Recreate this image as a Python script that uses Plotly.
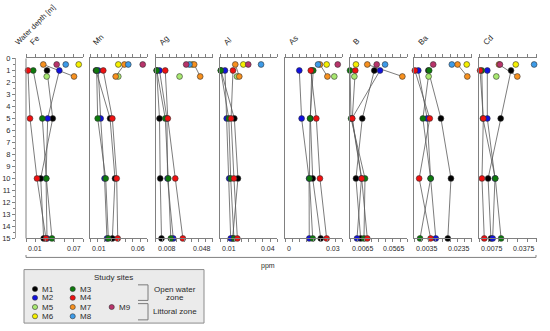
import plotly.graph_objects as go

W, H = 550, 331

elements = ["Fe", "Mn", "Ag", "Al", "As", "B", "Ba", "Cd"]
x_min = [0.01, 0.01, 0.008, 0.01, 0.0, 0.0065, 0.0035, 0.0075]
x_max = [0.07, 0.06, 0.048, 0.04, 0.03, 0.0565, 0.0235, 0.0375]
min_label = ["0.01", "0.01", "0.008", "0.01", "0", "0.0065", "0.0035", "0.0075"]
max_label = ["0.07", "0.06", "0.048", "0.04", "0.03", "0.0565", "0.0235", "0.0375"]
n_intervals = [6, 8, 8, 8, 8, 8, 8, 6]

sites = ["M1", "M2", "M3", "M4", "M5", "M6", "M7", "M8", "M9"]
site_colors = ["#000000", "#1010e0", "#0c7a0c", "#f01010", "#a8e870",
               "#f5f000", "#f7901e", "#3d9be8", "#b8336a"]

open_depths = [1, 5, 10, 15]
littoral_depths = {"M5": [1.5], "M6": [0.5], "M7": [0.5, 1.5], "M8": [0.5], "M9": [0.5]}
depth_ticks = list(range(0, 16))

fe = {"M1": [0.032, 0.038, 0.0254, 0.0285], "M2": [0.0449, 0.0327, 0.031, 0.032],
      "M3": [0.0176, 0.0271, 0.0313, 0.0372], "M4": [0.0121, 0.0142, 0.0215, 0.0309],
      "M5": [0.0317], "M6": [0.0652], "M7": [0.0281, 0.0603], "M8": [0.0516], "M9": [0.0421]}
mn = {"M1": [0.0152, 0.0275, 0.0318, 0.0295], "M2": [0.0172, 0.0193, 0.0227, 0.0248],
      "M3": [0.0158, 0.0167, 0.0237, 0.026], "M4": [0.0216, 0.0295, 0.0333, 0.0342],
      "M5": [0.0347], "M6": [0.0347], "M7": [0.04, 0.0324], "M8": [0.0434], "M9": [0.056]}
ag = {"M1": [0.0088, 0.0108, 0.0113, 0.0122], "M2": [0.0108, 0.016, 0.0164, 0.0204],
      "M3": [0.0089, 0.0148, 0.0169, 0.0187], "M4": [0.0148, 0.0166, 0.0218, 0.0271],
      "M5": [0.0248], "M6": [0.0336], "M7": [0.035, 0.0392], "M8": [0.0317], "M9": [0.0294]}
al = {"M1": [0.0105, 0.0175, 0.0194, 0.0166], "M2": [0.0126, 0.0135, 0.0148, 0.0156],
      "M3": [0.0104, 0.0146, 0.0156, 0.0173], "M4": [0.0168, 0.0158, 0.0173, 0.0191],
      "M5": [0.0189], "M6": [0.0222], "M7": [0.018, 0.0201], "M8": [0.0315], "M9": [0.0248]}
as_ = {"M1": [0.014, 0.0133, 0.0145, 0.0187], "M2": [0.0075, 0.0087, 0.0126, 0.0127],
       "M3": [0.0148, 0.0131, 0.0128, 0.0145], "M4": [0.0135, 0.0164, 0.0183, 0.0218],
       "M5": [0.0258], "M6": [0.0218], "M7": [0.0183, 0.0222], "M8": [0.0173], "M9": [0.0276]}
b = {"M1": [0.0277, 0.0172, 0.0117, 0.0158], "M2": [0.0327, 0.0082, 0.0165, 0.0126],
     "M3": [0.0065, 0.0074, 0.0196, 0.0187], "M4": [0.0111, 0.0085, 0.0167, 0.0216],
     "M5": [0.0103], "M6": [0.0117], "M7": [0.0216, 0.0522], "M8": [0.0371], "M9": [0.0298]}
ba = {"M1": [0.0084, 0.0128, 0.0163, 0.0152], "M2": [0.0049, 0.008, 0.0092, 0.011],
      "M3": [0.0087, 0.0065, 0.0092, 0.0055], "M4": [0.0037, 0.0089, 0.0052, 0.0092],
      "M5": [0.0085], "M6": [0.0218], "M7": [0.0186, 0.022], "M8": [0.0166], "M9": [0.0101]}
cd = {"M1": [0.0241, 0.0187, 0.0121, 0.0136], "M2": [0.0117, 0.0117, 0.0157, 0.0145],
      "M3": [0.0088, 0.0094, 0.0159, 0.0189], "M4": [0.0079, 0.0096, 0.0089, 0.0101],
      "M5": [0.0164], "M6": [0.0266], "M7": [0.0178, 0.0274], "M8": [0.0362], "M9": [0.0183]}
element_data = [fe, mn, ag, al, as_, b, ba, cd]

# layout geometry (pixels)
panel_left = [26, 90, 155.5, 220, 285, 350, 414.3, 479.3]
panel_w = 57.3
plot_top, plot_bot = 56, 241
FONT = "Liberation Sans, Arial, sans-serif"
TXT = "#2a2a2a"
AX = "#808080"


def px(p):
    return p / W


def py(p):
    return 1 - p / H


def depths_for(site):
    return open_depths if site in ["M1", "M2", "M3", "M4"] else littoral_depths[site]


fig = go.Figure()
layout = {}
shapes = []
annotations = []

for i, el in enumerate(elements):
    n = i + 1
    xa = "x" if n == 1 else f"x{n}"
    ya = "y" if n == 1 else f"y{n}"
    data = element_data[i]
    # connecting lines
    for s in sites:
        d = depths_for(s)
        if len(d) > 1:
            fig.add_trace(go.Scatter(x=data[s], y=d, mode="lines", xaxis=xa, yaxis=ya,
                                     line=dict(color="#5a5a5a", width=0.8),
                                     showlegend=False, hoverinfo="skip", cliponaxis=False))
    # markers
    for s, c in zip(sites, site_colors):
        d = depths_for(s)
        fig.add_trace(go.Scatter(x=data[s], y=d, mode="markers", xaxis=xa, yaxis=ya,
                                 marker=dict(size=5.8, color=c, line=dict(color="#333333", width=0.6)),
                                 showlegend=False, name=s, cliponaxis=False))
    step = (x_max[i] - x_min[i]) / n_intervals[i]
    tv = [x_min[i] + k * step for k in range(n_intervals[i] + 1)]
    left = panel_left[i]
    layout["xaxis" if n == 1 else f"xaxis{n}"] = dict(
        domain=[px(left), px(left + panel_w)], range=[x_min[i], x_max[i]],
        anchor=ya, showline=True, linecolor=AX, linewidth=1, mirror="ticks",
        ticks="outside", ticklen=3, tickwidth=1, tickcolor=AX, tickvals=tv,
        showticklabels=False, showgrid=False, zeroline=False)
    ydict = dict(domain=[py(plot_bot), py(plot_top)], range=[15, 0], anchor=xa,
                 showgrid=False, zeroline=False)
    if n == 1:
        ydict.update(anchor="free", position=px(15), showline=True, linecolor="#a0a0a0",
                     linewidth=1, ticks="outside", ticklen=3, tickcolor=AX, tickvals=depth_ticks,
                     ticktext=[str(v) for v in depth_ticks],
                     tickfont=dict(family=FONT, size=7.5, color=TXT),
                     minor=dict(ticks="outside", ticklen=2, tickcolor=AX, dtick=0.5))
        shapes.append(dict(type="line", xref="x domain", yref="y domain", x0=0, x1=0, y0=0, y1=1,
                           line=dict(color=AX, width=1)))
    else:
        ydict.update(showline=True, linecolor=AX, linewidth=1, ticks="", showticklabels=False)
    layout["yaxis" if n == 1 else f"yaxis{n}"] = ydict
    # element title (rotated)
    annotations.append(dict(text=el, x=px(left - 1), y=py(47), xref="paper", yref="paper",
                            xanchor="left", yanchor="bottom", textangle=-45, showarrow=False,
                            font=dict(family=FONT, size=8, color=TXT)))
    # bottom range labels
    annotations.append(dict(text=min_label[i], x=px(left), y=py(251), xref="paper", yref="paper",
                            xanchor="left", yanchor="middle", showarrow=False,
                            font=dict(family=FONT, size=7, color=TXT)))
    annotations.append(dict(text=max_label[i], x=px(left + panel_w), y=py(251), xref="paper",
                            yref="paper", xanchor="right", yanchor="middle", showarrow=False,
                            font=dict(family=FONT, size=7, color=TXT)))

# water depth title
annotations.append(dict(text="Water depth [m]", x=px(11), y=py(47), xref="paper", yref="paper",
                        xanchor="left", yanchor="bottom", textangle=-45, showarrow=False,
                        font=dict(family=FONT, size=7.5, color=TXT)))
# ppm axis
shapes.append(dict(type="line", xref="paper", yref="paper", x0=px(26), x1=px(536),
                   y0=py(260.5), y1=py(260.5), line=dict(color=AX, width=1)))
for xe in [26, 536]:
    shapes.append(dict(type="line", xref="paper", yref="paper", x0=px(xe), x1=px(xe),
                       y0=py(260.5), y1=py(258), line=dict(color=AX, width=1)))
annotations.append(dict(text="ppm", x=px(268), y=py(269), xref="paper", yref="paper",
                        xanchor="center", yanchor="middle", showarrow=False,
                        font=dict(family=FONT, size=7, color=TXT)))

# legend box
shapes.append(dict(type="rect", xref="paper", yref="paper", x0=px(24), x1=px(204),
                   y0=py(328), y1=py(273), fillcolor="#ebebeb", line=dict(color="#8c8c8c", width=1),
                   layer="below"))
annotations.append(dict(text="Study sites", x=px(113), y=py(281), xref="paper", yref="paper",
                        xanchor="center", yanchor="middle", showarrow=False,
                        font=dict(family=FONT, size=8, color=TXT)))
legend_pos = {"M1": (35, 293), "M2": (35, 302), "M5": (35, 311.5), "M6": (35, 321),
              "M3": (72.7, 293), "M4": (72.7, 302), "M7": (72.7, 311.5), "M8": (72.7, 321),
              "M9": (111.7, 311.5)}
r = 2.6
for s, c in zip(sites, site_colors):
    cx, cy = legend_pos[s]
    shapes.append(dict(type="circle", xref="paper", yref="paper", x0=px(cx - r), x1=px(cx + r),
                       y0=py(cy + r), y1=py(cy - r), fillcolor=c, line=dict(color="#333333", width=0.6)))
    annotations.append(dict(text=s, x=px(cx + 5), y=py(cy), xref="paper", yref="paper",
                            xanchor="left", yanchor="middle", showarrow=False,
                            font=dict(family=FONT, size=8, color=TXT)))
# brackets
for (y0, y1) in [(288.7, 304.7), (308, 324.7)]:
    shapes.append(dict(type="path", xref="paper", yref="paper",
                       path=f"M {px(138)},{py(y0)} L {px(148)},{py(y0)} L {px(148)},{py(y1)} L {px(138)},{py(y1)}",
                       line=dict(color="#7a7a7a", width=1)))
annotations.append(dict(text="Open water", x=px(174.5), y=py(293), xref="paper", yref="paper",
                        xanchor="center", yanchor="middle", showarrow=False,
                        font=dict(family=FONT, size=8, color=TXT)))
annotations.append(dict(text="zone", x=px(174.5), y=py(302), xref="paper", yref="paper",
                        xanchor="center", yanchor="middle", showarrow=False,
                        font=dict(family=FONT, size=8, color=TXT)))
annotations.append(dict(text="Littoral zone", x=px(175), y=py(316.3), xref="paper", yref="paper",
                        xanchor="center", yanchor="middle", showarrow=False,
                        font=dict(family=FONT, size=8, color=TXT)))

fig.update_layout(width=W, height=H, margin=dict(l=0, r=0, t=0, b=0),
                  paper_bgcolor="white", plot_bgcolor="white", showlegend=False,
                  shapes=shapes, annotations=annotations, **layout)
fig.write_html("out.html", config={"displayModeBar": False},
               post_script="document.body.style.margin='0px';")
